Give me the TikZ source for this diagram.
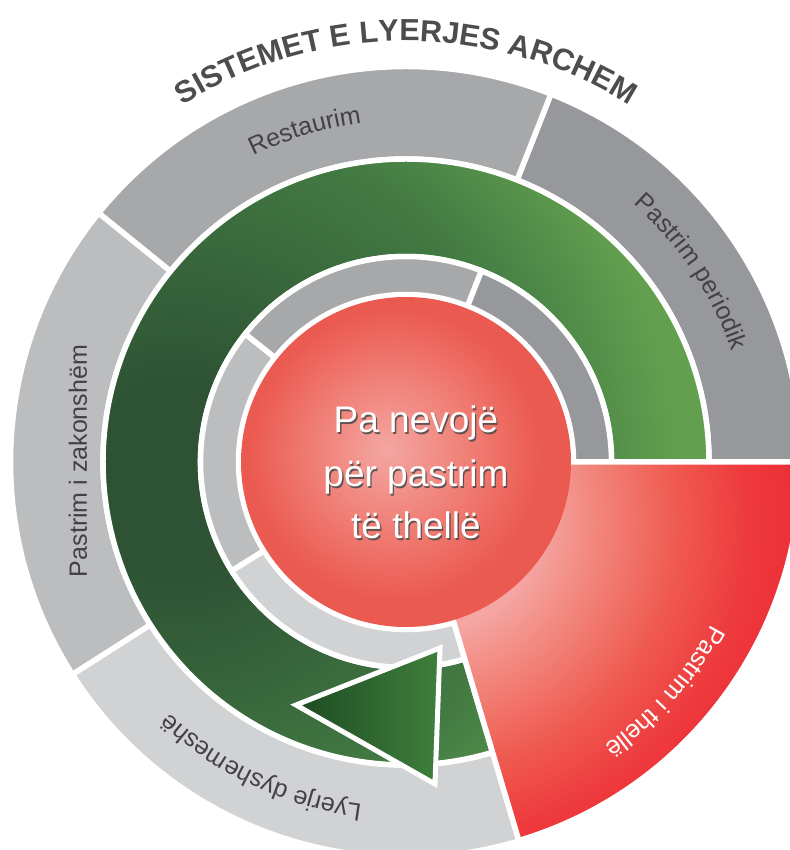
\documentclass[tikz,border=0pt]{standalone}
\usepackage{fontspec}
\setmainfont{Liberation Sans}
\setsansfont{Liberation Sans}
\usetikzlibrary{decorations.text}

\definecolor{gA}{HTML}{97989B}
\definecolor{gB}{HTML}{A7A8AA}
\definecolor{gC}{HTML}{BCBDBF}
\definecolor{gD}{HTML}{D1D2D4}
\definecolor{lbl}{HTML}{424244}
\definecolor{ttl}{HTML}{4D4D4F}
\definecolor{gdark}{HTML}{2E5334}
\definecolor{gmid}{HTML}{437B43}
\definecolor{glight}{HTML}{62A04F}
\definecolor{adark}{HTML}{1D4A22}
\definecolor{alight}{HTML}{3F803C}
\definecolor{cpink}{HTML}{F4A6A2}
\definecolor{cmid}{HTML}{F08178}
\definecolor{cedge}{HTML}{EB5A50}
\definecolor{wpink}{HTML}{F5A6A4}
\definecolor{wp2}{HTML}{F28A80}
\definecolor{wmid}{HTML}{EF5A50}
\definecolor{wred}{HTML}{EE3A3D}
\definecolor{wred2}{HTML}{EC2E36}
\definecolor{shad}{HTML}{4A4A4A}

% TikZ maps 25bp of a radial shading to the half-size of the shaded path
\pgfdeclareradialshading{greenrad}{\pgfpoint{0bp}{0bp}}{color(0bp)=(gdark); color(4bp)=(gdark); color(15bp)=(gmid); color(21bp)=(glight); color(25bp)=(glight); color(50bp)=(glight)}
\pgfdeclareradialshading{redc}{\pgfpoint{-3bp}{2bp}}{color(0bp)=(cpink); color(11bp)=(cmid); color(22bp)=(cedge); color(25bp)=(cedge); color(50bp)=(cedge)}
\pgfdeclareradialshading{redw}{\pgfpoint{0bp}{0bp}}{color(0bp)=(wpink); color(6bp)=(wpink); color(9bp)=(wp2); color(14bp)=(wmid); color(18bp)=(wred); color(21bp)=(wred2); color(50bp)=(wred2)}

\newcommand\annsec[4]{(#1:#3) arc[start angle=#1, end angle=#2, radius=#3] -- (#2:#4) arc[start angle=#2, end angle=#1, radius=#4] -- cycle}
\newcommand\lblfont{\fontsize{25}{25}\selectfont}
\newcommand\ttlfont{\fontsize{30.5}{30.5}\selectfont\bfseries}
\newcommand\ctrfont{\fontsize{37}{37}\selectfont}

\tikzset{
  sector/.style={draw=white, line width=5.5pt, line join=miter},
  arclabel/.style={decorate, decoration={text along path, text align=center, text color=lbl, text={|\lblfont|#1}}},
  ctext/.style={font=\ctrfont, text=white, anchor=base, inner sep=0pt},
  cshadow/.style={font=\ctrfont, text=shad, anchor=base, inner sep=0pt, opacity=0.85}
}

\begin{document}
\begin{tikzpicture}[x=1pt,y=1pt]
\useasboundingbox (-406,-388) rectangle (383,462);
\fill[white] (-406,-388) rectangle (383,462);

% outer ring
\path[fill=gA, sector] \annsec{0}{68.5}{395.5}{303};
\path[fill=gB, sector] \annsec{68.5}{141}{395.5}{303};
\path[fill=gC, sector] \annsec{141}{212.5}{395.5}{303};
\path[fill=gD, sector] \annsec{212.5}{286.6}{395.5}{303};

% green ring
\begin{scope}
  \clip \annsec{0}{286.6}{303}{205.5};
  \shade[shading=greenrad] (-231,-18) circle (600);
\end{scope}
\path[sector] \annsec{0}{286.6}{303}{205.5};

% inner grey ring
\path[fill=gA, sector] \annsec{0}{68.5}{205.5}{167.5};
\path[fill=gB, sector] \annsec{68.5}{141.5}{205.5}{167.5};
\path[fill=gC, sector] \annsec{141.5}{212}{205.5}{167.5};
\path[fill=gD, sector] \annsec{212}{286.6}{205.5}{167.5};

% red wedge
\begin{scope}
  \clip (0,0) -- (0:395) arc[start angle=0, end angle=-73.4, radius=395] -- cycle;
  \shade[shading=redw] (25,-60) circle (440);
\end{scope}
\path[sector] (0,0) -- (0:395) arc[start angle=0, end angle=-73.4, radius=395] -- cycle;

% centre circle
\shade[shading=redc] (0,0) circle (165);

% arrow head
\coordinate (tip) at (-110,-243);
\coordinate (atop) at (34,-186);
\coordinate (abot) at (29,-322);
\path[draw=white, line width=5pt, line join=miter, left color=adark, right color=alight] (tip) -- (atop) -- (abot) -- cycle;

% title
\path[decorate, decoration={text along path, text align=center, text color=ttl, text={|\ttlfont|SISTEMET E LYERJES ARCHEM}}]
  (130:421) arc[start angle=130, end angle=50, radius=421];

% ring labels
\path[arclabel={Restaurim}] (147:342) arc[start angle=147, end angle=67, radius=342];
\path[arclabel={Pastrim periodik}] (73.7:344) arc[start angle=73.7, end angle=-6.3, radius=344];
\path[arclabel={Lyerje dyshemeshë}] (284.7:345) arc[start angle=284.7, end angle=204.7, radius=345];
\path[decorate, decoration={text along path, text align=center, text color=white, text={|\lblfont|Pastrim i thellë}}]
  (-1.5:346) arc[start angle=-1.5, end angle=-81.5, radius=346];
\node[rotate=90, anchor=base, text=lbl, font=\lblfont, inner sep=0pt] (zak) at (-319,1) {Pastrim i zakonshëm};

% centre text
\node[cshadow] (s1) at (11.3,27.7) {Pa nevojë};
\node[cshadow] (s2) at (11.3,-26.3) {për pastrim};
\node[cshadow] (s3) at (11.3,-78.3) {të thellë};
\node[ctext] (c1) at (10,29) {Pa nevojë};
\node[ctext] (c2) at (10,-25) {për pastrim};
\node[ctext] (c3) at (10,-77) {të thellë};
\end{tikzpicture}
\end{document}
